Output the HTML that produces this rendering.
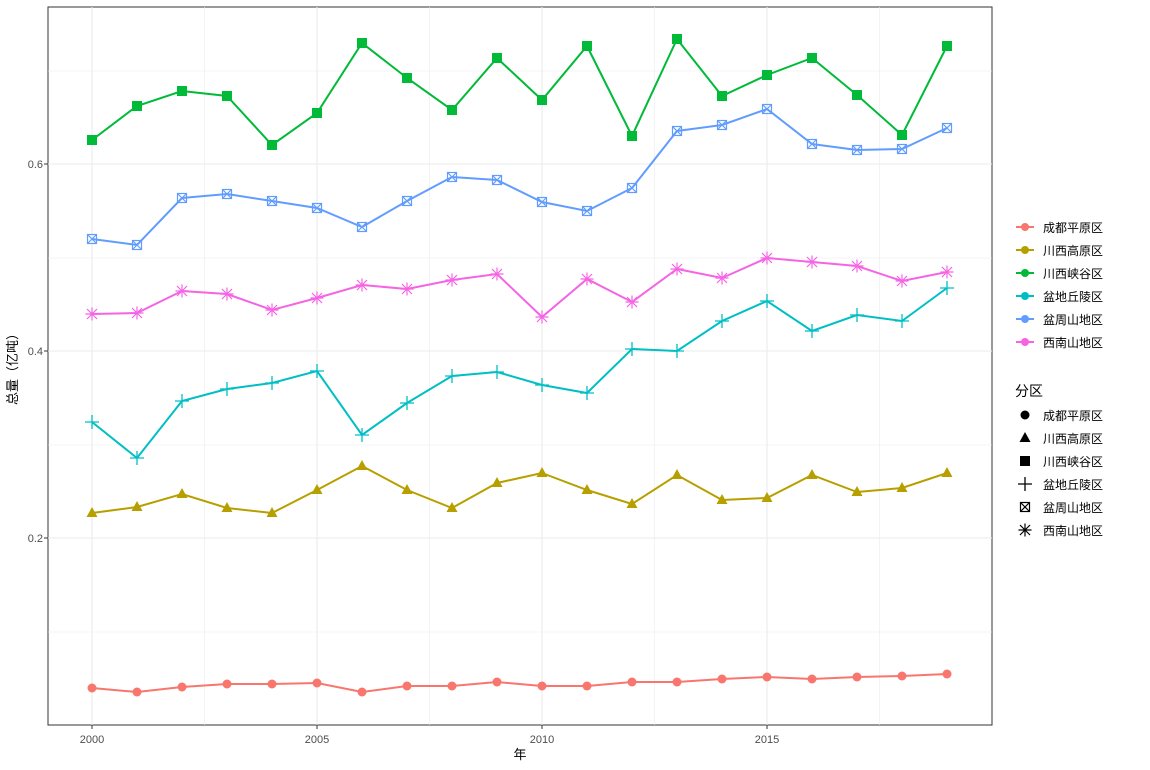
<!DOCTYPE html><html><head><meta charset="utf-8"><style>body{margin:0;background:#fff}svg{display:block;font-family:"Liberation Sans","Noto Sans CJK SC",sans-serif}</style></head><body>
<svg id="s" width="1150" height="770" xmlns="http://www.w3.org/2000/svg">
<rect x="48" y="7" width="944" height="718" fill="#fff" stroke="#333" stroke-width="1"/>
<g id="grid"></g><g id="data"></g>
<g font-size="11" fill="#4d4d4d" text-anchor="end"><text x="43" y="168">0.6</text><text x="43" y="355">0.4</text><text x="43" y="542">0.2</text></g>
<g font-size="11" fill="#4d4d4d" text-anchor="middle"><text x="92" y="743">2000</text><text x="317" y="743">2005</text><text x="542" y="743">2010</text><text x="767" y="743">2015</text></g>
<text x="520" y="759" font-size="13" text-anchor="middle">年</text>
<text transform="translate(17,366) rotate(-90)" font-size="13" text-anchor="middle">总量（亿吨）</text>
<g font-size="12"><text x="1043" y="232">成都平原区</text><text x="1043" y="255">川西高原区</text><text x="1043" y="278">川西峡谷区</text><text x="1043" y="301">盆地丘陵区</text><text x="1043" y="324">盆周山地区</text><text x="1043" y="347">西南山地区</text>
<text x="1015" y="396" font-size="14">分区</text>
<text x="1043" y="420">成都平原区</text><text x="1043" y="443">川西高原区</text><text x="1043" y="466">川西峡谷区</text><text x="1043" y="489">盆地丘陵区</text><text x="1043" y="512">盆周山地区</text><text x="1043" y="535">西南山地区</text></g>
<g id="leg"></g>
</svg>
<script>
const NS="http://www.w3.org/2000/svg";
function el(p,t,a){const e=document.createElementNS(NS,t);for(const k in a)e.setAttribute(k,a[k]);p.appendChild(e);return e;}
const g=document.getElementById('grid');
[632,538,445,351,258,164,71].forEach((y,i)=>el(g,'line',{x1:48,x2:992,y1:y,y2:y,stroke:'#ebebeb','stroke-width':i%2==0?0.6:1.1}));
for(let i=0;i<8;i++){const x=92+i*112.5;if(x<992)el(g,'line',{x1:x,x2:x,y1:7,y2:725,stroke:'#ebebeb','stroke-width':i%2?0.6:1.1});}
[164,351,538].forEach(y=>el(g,'line',{x1:44,x2:48,y1:y,y2:y,stroke:'#333'}));
[92,317,542,767].forEach(x=>el(g,'line',{x1:x,x2:x,y1:725,y2:729,stroke:'#333'}));
const S=[
['#F8766D','c',[688,692,687,684,684,683,692,686,686,682,686,686,682,682,679,677,679,677,676,674]],
['#B79F00','t',[513,507,494,508,513,490,466,490,508,483,473,490,504,475,500,498,475,492,488,473]],
['#00BA38','s',[140,106,91,96,145,113,43,78,110,58,100,46,136,39,96,75,58,95,135,46]],
['#00BFC4','p',[422,458,401,389,383,371,435,403,376,372,385,393,349,351,321,301,331,315,321,288]],
['#619CFF','x',[239,245,198,194,201,208,227,201,177,180,202,211,188,131,125,109,144,150,149,128]],
['#F564E3','a',[314,313,291,294,310,298,285,289,280,274,317,279,302,269,278,258,262,266,281,272]]];
function mark(p,t,x,y,c,r){
 if(t=='c')el(p,'circle',{cx:x,cy:y,r:r*0.9,fill:c});
 if(t=='t')el(p,'polygon',{points:`${x},${y-r*1.2} ${x-r*1.1},${y+r*0.8} ${x+r*1.1},${y+r*0.8}`,fill:c});
 if(t=='s')el(p,'rect',{x:x-r,y:y-r,width:2*r,height:2*r,fill:c});
 if(t=='p')el(p,'path',{d:`M${x-r*1.4},${y}H${x+r*1.4}M${x},${y-r*1.4}V${y+r*1.4}`,stroke:c,'stroke-width':1.3,fill:'none'});
 if(t=='x'){el(p,'rect',{x:x-r*0.9,y:y-r*0.9,width:1.8*r,height:1.8*r,fill:'none',stroke:c,'stroke-width':1.2});el(p,'path',{d:`M${x-r*0.9},${y-r*0.9}L${x+r*0.9},${y+r*0.9}M${x+r*0.9},${y-r*0.9}L${x-r*0.9},${y+r*0.9}`,stroke:c,'stroke-width':1.2});}
 if(t=='a')el(p,'path',{d:`M${x-r*1.3},${y}H${x+r*1.3}M${x},${y-r*1.3}V${y+r*1.3}M${x-r},${y-r}L${x+r},${y+r}M${x+r},${y-r}L${x-r},${y+r}`,stroke:c,'stroke-width':1.2});
}
const d=document.getElementById('data'),L=document.getElementById('leg');
S.forEach((s,i)=>{
 el(d,'polyline',{points:s[2].map((y,j)=>(92+45*j)+','+y).join(' '),fill:'none',stroke:s[0],'stroke-width':2});
 s[2].forEach((y,j)=>mark(d,s[1],92+45*j,y,s[0],5));
 const ly=227+23*i;el(L,'line',{x1:1016,x2:1034,y1:ly,y2:ly,stroke:s[0],'stroke-width':2});el(L,'circle',{cx:1025,cy:ly,r:4,fill:s[0]});
 mark(L,s[1],1025,415+23*i,'#000',5);
});
</script>
</body></html>
